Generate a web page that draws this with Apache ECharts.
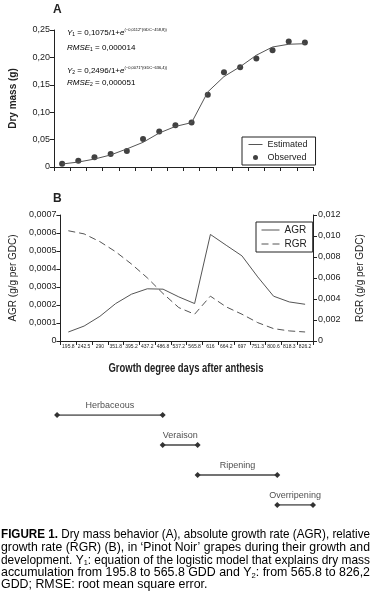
<!DOCTYPE html>
<html>
<head>
<meta charset="utf-8">
<script src="https://cdn.jsdelivr.net/npm/echarts@6/dist/echarts.min.js"></script>
<style>
  html, body { margin: 0; padding: 0; background: #fff; }
  #chart { width: 374px; height: 599px; }
</style>
</head>
<body>
<div id="chart"></div>
<script>
const gdd = ['195.8', '242.5', '290', '351.8', '395.2', '437.2', '486.8', '537.2',
             '565.8', '616', '664.2', '697', '751.3', '800.6', '818.3', '826.2'];

// panel A: dry mass (g)
const observed = [0.006, 0.0115, 0.0176, 0.0236, 0.029, 0.051, 0.065, 0.076,
                  0.081, 0.132, 0.173, 0.182, 0.198, 0.213, 0.229, 0.227];
const estimated = [0.0055, 0.009, 0.0145, 0.022, 0.033, 0.045, 0.062, 0.074,
                   0.081, 0.137, 0.165, 0.183, 0.204, 0.219, 0.224, 0.225];
const ticksA = ['0', '0,05', '0,10', '0,15', '0,20', '0,25'];

// panel B: growth rates
const agr = [0.00005, 0.000083, 0.000137, 0.000208, 0.00026, 0.00029, 0.000288, 0.000245,
             0.000208, 0.000592, 0.000532, 0.000473, 0.000356, 0.000249, 0.000217, 0.000204];
const rgr = [0.0105, 0.0102, 0.00946, 0.0085, 0.00733, 0.00602, 0.00452, 0.00318,
             0.00255, 0.00427, 0.00325, 0.00255, 0.00175, 0.00118, 0.00096, 0.00086];
const ticksAgr = ['0', '0,0001', '0,0002', '0,0003', '0,0004', '0,0005', '0,0006', '0,0007'];
const ticksRgr = ['0', '0,002', '0,004', '0,006', '0,008', '0,010', '0,012'];

// phenological phases (in category-band units along the GDD axis)
const phaseNames = ['Herbaceous', 'Veraison', 'Ripening', 'Overripening'];
const phaseStart = [0.25, 6.75, 8.9, 13.8];
const phaseEnd = [6.75, 8.9, 13.8, 16.0];

const FONT = "'Liberation Sans', Arial, sans-serif";
const INK = '#222';
const LINE = '#555';

const chart = echarts.init(document.getElementById('chart'));

// measure text so condensed-looking lines can be squeezed to a target width
const measureCtx = document.createElement('canvas').getContext('2d');
function partsWidth(parts, fonts) {
    let w = 0;
    parts.forEach(function (p) {
        measureCtx.font = fonts[p[0]];
        w += measureCtx.measureText(p[1]).width;
    });
    return w;
}

function catAxis(grid, showLabels) {
    return {
        type: 'category', gridIndex: grid, data: gdd, boundaryGap: true,
        axisLine: { lineStyle: { color: INK, width: 1 } },
        axisTick: { show: true, length: 4, lineStyle: { color: INK } },
        axisLabel: {
            show: showLabels, interval: 0, margin: 3,
            fontSize: 5, fontFamily: FONT, color: INK
        }
    };
}

function valAxis(grid, max, interval, ticks, extra) {
    return Object.assign({
        type: 'value', gridIndex: grid, min: 0, max: max, interval: interval,
        axisLine: { show: true, lineStyle: { color: INK } },
        axisTick: { show: true, length: 4, lineStyle: { color: INK } },
        splitLine: { show: false },
        axisLabel: {
            fontSize: 9, fontFamily: FONT, color: INK, margin: 4,
            formatter: function (v) { return ticks[Math.round(v / interval)]; }
        },
        nameLocation: 'middle',
        nameTextStyle: { fontFamily: FONT, fontSize: 10, color: INK }
    }, extra || {});
}

const phaseSeries = phaseNames.map(function (name, i) {
    return {
        type: 'line', xAxisIndex: 2, yAxisIndex: 3,
        data: [[phaseStart[i], name], [phaseEnd[i], name]],
        symbol: 'diamond', symbolSize: 6,
        itemStyle: { color: '#333' },
        lineStyle: { color: '#444', width: 1.5 },
        silent: true
    };
});

const phaseLabels = {
    type: 'scatter', xAxisIndex: 2, yAxisIndex: 3,
    symbolSize: 0,
    data: phaseNames.map(function (name, i) {
        return { value: [(phaseStart[i] + phaseEnd[i]) / 2, name], name: name };
    }),
    label: {
        show: true, position: 'top', distance: 5,
        formatter: '{b}', fontFamily: FONT, fontSize: 9, color: INK
    }
};

const eqStyle = {
    i: { fontFamily: FONT, fontSize: 8, fontStyle: 'italic', color: INK },
    t: { fontFamily: FONT, fontSize: 8, color: INK },
    sub: { fontFamily: FONT, fontSize: 5, color: INK, verticalAlign: 'bottom', padding: [4, 0, 0, 0] },
    sup: { fontFamily: FONT, fontSize: 4, color: INK, verticalAlign: 'top', padding: [0, 0, 4, 0] }
};

// caption, one entry per printed line: [style, text] pieces
const capFonts = {
    b: 'bold 13px ' + FONT,
    t: '13px ' + FONT,
    s: '8px ' + FONT
};
const capRich = {
    b: { fontFamily: FONT, fontSize: 13, fontWeight: 'bold', color: INK },
    t: { fontFamily: FONT, fontSize: 13, color: INK },
    s: { fontFamily: FONT, fontSize: 8, color: INK, padding: [6, 0, 0, 0] }
};
const captionLines = [
    [['b', 'FIGURE 1.'], ['t', ' Dry mass behavior (A), absolute growth rate (AGR), relative']],
    [['t', 'growth rate (RGR) (B), in \u2018Pinot Noir\u2019 grapes during their growth and']],
    [['t', 'development. Y'], ['s', '1'], ['t', ': equation of the logistic model that explains dry mass']],
    [['t', 'accumulation from 195.8 to 565.8 GDD and Y'], ['s', '2'], ['t', ': from 565.8 to 826,2']],
    [['t', 'GDD; RMSE: root mean square error.']]
];

const graphics = [
    { type: 'text', left: 53, top: 4, style: { text: 'A', font: 'bold 12px ' + FONT, fill: INK } },
    { type: 'text', left: 53, top: 193, style: { text: 'B', font: 'bold 12px ' + FONT, fill: INK } },
    { type: 'text', left: 67, top: 28, style: { text: '{i|Y}{sub|1}{t| = 0,1075/1+}{i|e}{sup|(\u22120,0112*(GDC\u2212458,8))}', rich: eqStyle } },
    { type: 'text', left: 67, top: 44, style: { text: '{i|RMSE}{sub|1}{t| = 0,000014}', rich: eqStyle } },
    { type: 'text', left: 67, top: 66, style: { text: '{i|Y}{sub|2}{t| = 0,2496/1+}{i|e}{sup|(\u22120,0071*(GDC\u2212636,4))}', rich: eqStyle } },
    { type: 'text', left: 67, top: 79, style: { text: '{i|RMSE}{sub|2}{t| = 0,000051}', rich: eqStyle } }
];

// x-axis title, condensed to the printed width
const xTitle = 'Growth degree days after anthesis';
const xTitleW = partsWidth([['b', xTitle]], { b: 'bold 12px ' + FONT });
graphics.push({
    type: 'text', x: 108.5, y: 363, scaleX: 155 / xTitleW,
    style: { text: xTitle, font: 'bold 12px ' + FONT, fill: INK }
});

let capScale = 1;
captionLines.forEach(function (parts, i) {
    const w = partsWidth(parts, capFonts);
    const last = i === captionLines.length - 1;
    if (!last) capScale = 369 / w;
    graphics.push({
        type: 'text', x: 1, y: 528 + i * 12.5, scaleX: capScale,
        style: {
            text: parts.map(function (p) { return '{' + p[0] + '|' + p[1] + '}'; }).join(''),
            rich: capRich
        }
    });
});

const option = {
    animation: false,
    backgroundColor: '#fff',
    textStyle: { fontFamily: FONT },
    grid: [
        { left: 53, top: 30, width: 260, height: 137 },
        { left: 53, top: 215, width: 260, height: 126 },
        { left: 53, top: 415, width: 260, height: 90 }
    ],
    legend: [
        {
            left: 242, top: 137, width: 70, orient: 'vertical',
            borderColor: INK, borderWidth: 1, padding: [3, 8, 3, 6], itemGap: 4,
            itemWidth: 14, itemHeight: 5,
            lineStyle: { width: 1 },
            textStyle: { fontFamily: FONT, fontSize: 9, color: INK },
            data: [
                { name: 'Estimated', itemStyle: { opacity: 0 } },
                { name: 'Observed', icon: 'circle' }
            ]
        },
        {
            left: 256, top: 222, orient: 'vertical',
            borderColor: INK, borderWidth: 1, padding: [3, 6, 3, 5], itemGap: 4,
            itemWidth: 18, itemHeight: 5,
            lineStyle: { width: 1 },
            textStyle: { fontFamily: FONT, fontSize: 10, color: INK },
            data: [
                { name: 'AGR', itemStyle: { opacity: 0 } },
                { name: 'RGR', itemStyle: { opacity: 0 } }
            ]
        }
    ],
    xAxis: [
        catAxis(0, false),
        catAxis(1, true),
        { type: 'value', gridIndex: 2, min: 0, max: 16, show: false }
    ],
    yAxis: [
        valAxis(0, 0.25, 0.05, ticksA, {
            name: 'Dry mass (g)', nameGap: 36,
            nameTextStyle: { fontFamily: FONT, fontSize: 10, fontWeight: 'bold', color: INK }
        }),
        valAxis(1, 0.0007, 0.0001, ticksAgr, { name: 'AGR (g/g per GDC)', nameGap: 40 }),
        valAxis(1, 0.012, 0.002, ticksRgr, {
            name: 'RGR (g/g per GDC)', nameGap: 42, position: 'right',
            axisLabel: {
                fontSize: 9, fontFamily: FONT, color: INK, margin: 5,
                formatter: function (v) { return ticksRgr[Math.round(v / 0.002)]; }
            }
        }),
        {
            type: 'category', gridIndex: 2, data: phaseNames, inverse: true,
            boundaryGap: false, show: false
        }
    ],
    graphic: graphics,
    series: [
        {
            name: 'Estimated', type: 'line', xAxisIndex: 0, yAxisIndex: 0,
            data: estimated, symbol: 'none',
            lineStyle: { color: LINE, width: 1 }, itemStyle: { color: LINE }
        },
        {
            name: 'Observed', type: 'scatter', xAxisIndex: 0, yAxisIndex: 0,
            data: observed, symbolSize: 6, itemStyle: { color: '#111' }
        },
        {
            name: 'AGR', type: 'line', xAxisIndex: 1, yAxisIndex: 1,
            data: agr, symbol: 'none',
            lineStyle: { color: LINE, width: 1 }, itemStyle: { color: LINE }
        },
        {
            name: 'RGR', type: 'line', xAxisIndex: 1, yAxisIndex: 2,
            data: rgr, symbol: 'none',
            lineStyle: { color: LINE, width: 1, type: [7, 4] }, itemStyle: { color: LINE }
        }
    ].concat(phaseSeries, [phaseLabels])
};

chart.setOption(option);

window.addEventListener('resize', function () {
    chart.resize();
});
</script>
</body>
</html>
